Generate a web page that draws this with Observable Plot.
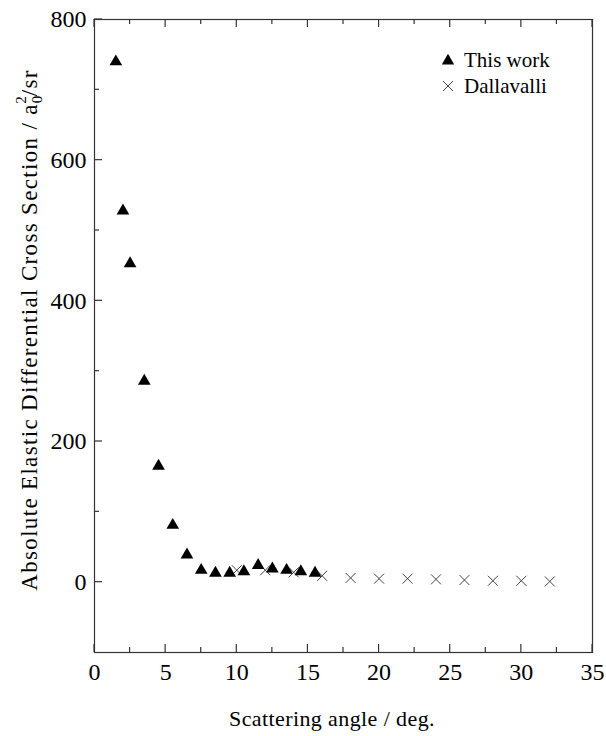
<!DOCTYPE html>
<html><head><meta charset="utf-8">
<script src="https://cdn.jsdelivr.net/npm/d3@7"></script>
<script src="https://cdn.jsdelivr.net/npm/@observablehq/plot@0.6"></script>
<style>
body{margin:0;background:#fff;font-family:"Liberation Serif","DejaVu Serif",serif;}
#wrap{position:relative;width:606px;height:736px;}
#legend{position:absolute;left:439px;top:47px;font-size:21px;line-height:26px;color:#000;font-family:"Liberation Serif",serif;}
#legend div{display:flex;align-items:center;}
#legend svg{margin-right:7px;}
</style></head><body><div id="wrap"></div>
<script>
// ---- data ----
const thisWorkAngle = [1.5, 2, 2.5, 3.5, 4.5, 5.5, 6.5, 7.5, 8.5, 9.5, 10.5, 11.5, 12.5, 13.5, 14.5, 15.5];
const thisWorkDCS   = [740, 528, 453, 286, 165, 81, 39, 17, 13, 13, 15, 24, 19, 17, 15, 13];
const dallavalliAngle = [10, 12, 14, 16, 18, 20, 22, 24, 26, 28, 30, 32];
const dallavalliDCS   = [17, 17, 14, 9, 6, 5, 5, 4, 3, 2, 2, 1];
const xMajorTicks = [0, 5, 10, 15, 20, 25, 30, 35];
const xMinorTicks = [2.5, 7.5, 12.5, 17.5, 22.5, 27.5, 32.5];
const yMajorTicks = [0, 200, 400, 600, 800];
const yMinorTicks = [100, 300, 500, 700];
const seriesNames = ["This work", "Dallavalli"];

const thisWork = thisWorkAngle.map((a, i) => ({angle: a, dcs: thisWorkDCS[i]}));
const dallavalli = dallavalliAngle.map((a, i) => ({angle: a, dcs: dallavalliDCS[i]}));

const W = 606, H = 736, mL = 94, mR = 14, mT = 19, mB = 84;
const majorLen = 8, minorLen = 5;

const chart = Plot.plot({
  width: W, height: H,
  marginLeft: mL, marginRight: mR, marginTop: mT, marginBottom: mB,
  style: {fontFamily: "'Liberation Serif', serif", fontSize: "24px", color: "#000", background: "#fff", overflow: "visible"},
  x: {domain: [0, 35]},
  y: {domain: [-100, 800]},
  marks: [
    Plot.axisX(xMajorTicks, {anchor: "bottom", tickSize: 0, tickPadding: 10, label: null, fontSize: 24}),
    Plot.axisY(yMajorTicks, {anchor: "left", tickSize: 0, tickPadding: 8, label: null, fontSize: 24}),
    Plot.frame({stroke: "#333", strokeWidth: 1.2}),
    Plot.dot(dallavalli, {x: "angle", y: "dcs", symbol: "times", r: 4.6, stroke: "#444", strokeWidth: 1}),
    Plot.dot(thisWork, {x: "angle", y: "dcs", symbol: "triangle", r: 4.7, fill: "#000", stroke: "none"})
  ]
});

document.getElementById("wrap").appendChild(chart);

const svg = d3.select(chart);
const sx = chart.scale("x"), sy = chart.scale("y");
const yTop = sy.apply(800), yBot = sy.apply(-100), xLeft = sx.apply(0);

// inward tick marks drawn through Plot's scales
const tg = svg.append("g").attr("stroke", "#333").attr("stroke-width", 1.2);
const addX = (vals, len) => vals.forEach(v => {
  const px = sx.apply(v);
  tg.append("line").attr("x1", px).attr("x2", px).attr("y1", yBot).attr("y2", yBot - len);
  tg.append("line").attr("x1", px).attr("x2", px).attr("y1", yTop).attr("y2", yTop + len);
});
addX(xMajorTicks, majorLen);
addX(xMinorTicks, minorLen);
const addY = (vals, len) => vals.forEach(v => {
  const py = sy.apply(v);
  tg.append("line").attr("x1", xLeft).attr("x2", xLeft + len).attr("y1", py).attr("y2", py);
});
addY(yMajorTicks, majorLen);
addY(yMinorTicks, minorLen);

// x axis label
svg.append("text")
  .attr("x", 332).attr("y", 726)
  .attr("text-anchor", "middle")
  .style("font-family", "'Liberation Serif', serif").style("font-size", "22px")
  .style("letter-spacing", "0.4px")
  .text("Scattering angle / deg.");
// y axis label with stacked sub/superscript
const yl = svg.append("text")
  .attr("transform", `translate(37,330) rotate(-90)`)
  .attr("text-anchor", "middle")
  .style("font-family", "'Liberation Serif', serif").style("font-size", "23px")
  .style("letter-spacing", "1.33px");
yl.append("tspan").text("Absolute Elastic Differential Cross Section / a");
yl.append("tspan").attr("dy", 5).style("font-size", "15px").style("letter-spacing", "0px").text("0");
yl.append("tspan").attr("dx", -8).attr("dy", -16).style("font-size", "15px").style("letter-spacing", "0px").text("2");
yl.append("tspan").attr("dy", 11).text("/sr");

// legend
const legend = d3.select("#wrap").append("div").attr("id", "legend");
const t = d3.symbol(d3.symbolTriangle, 66)();
const x = d3.symbol(d3.symbolTimes, 67)();
const row1 = legend.append("div");
row1.append("svg").attr("width", 18).attr("height", 18).append("path").attr("d", t).attr("transform", "translate(9,10)").attr("fill", "#000");
row1.append("span").text(seriesNames[0]);
const row2 = legend.append("div");
row2.append("svg").attr("width", 18).attr("height", 18).append("path").attr("d", x).attr("transform", "translate(9,9)").attr("fill", "none").attr("stroke", "#444");
row2.append("span").text(seriesNames[1]);
</script>
</body></html>
